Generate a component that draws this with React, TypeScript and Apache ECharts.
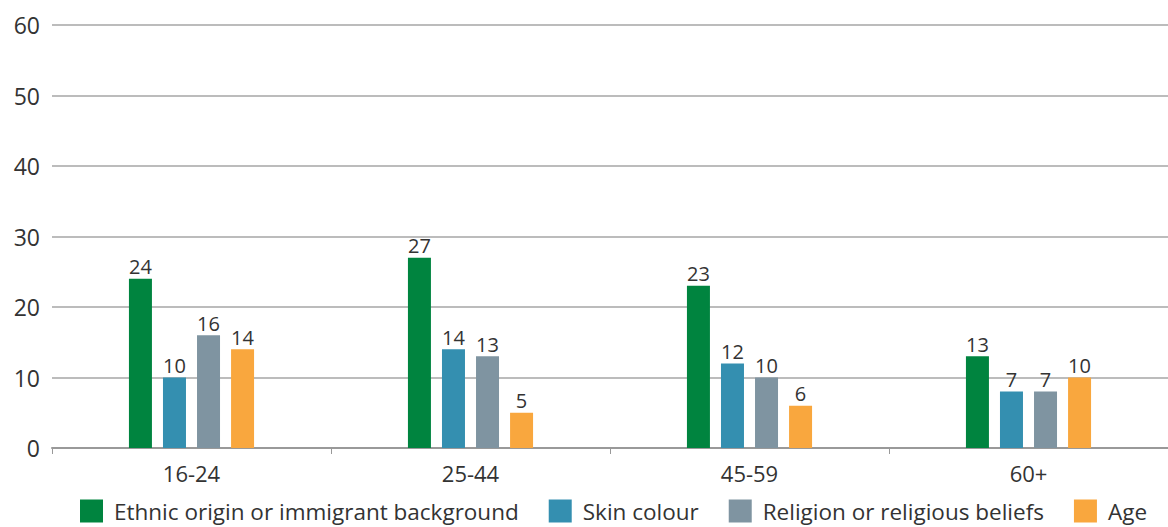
import React, { useEffect, useRef } from "react";
import * as echarts from "echarts";

const categories = ["16-24", "25-44", "45-59", "60+"];
const seriesNames = [
  "Ethnic origin or immigrant background",
  "Skin colour",
  "Religion or religious beliefs",
  "Age",
];
// bar heights as drawn
const ethnic = [24, 27, 23, 13];
const skin = [10, 14, 12, 8];
const religion = [16, 13, 10, 8];
const age = [14, 5, 6, 10];
// value labels as printed
const ethnicLabels = ["24", "27", "23", "13"];
const skinLabels = ["10", "14", "12", "7"];
const religionLabels = ["16", "13", "10", "7"];
const ageLabels = ["14", "5", "6", "10"];
const yTicks = [0, 10, 20, 30, 40, 50, 60];

const colors = ["#00843f", "#348fb0", "#7f94a1", "#f9a73e"];
const FONT = "'Open Sans', 'Noto Sans', sans-serif";

export default function App() {
  const ref = useRef<HTMLDivElement>(null);
  useEffect(() => {
    if (!ref.current) return;
    const chart = echarts.init(ref.current, null, { renderer: "svg" });
    const datasets = [ethnic, skin, religion, age];
    const labelSets = [ethnicLabels, skinLabels, religionLabels, ageLabels];
    chart.setOption({
      animation: false,
      textStyle: { fontFamily: FONT },
      grid: { left: 52, right: 0, top: 25, bottom: 79, containLabel: false },
      legend: {
        data: seriesNames,
        left: 80,
        top: 498,
        padding: 0,
        itemWidth: 23,
        itemHeight: 23,
        itemGap: 30,
        icon: "rect",
        textStyle: { fontSize: 22.5, lineHeight: 26, color: "#333", fontFamily: FONT, padding: [0, 0, 0, 6] },
      },
      xAxis: {
        type: "category",
        data: categories,
        axisLine: { lineStyle: { color: "#999", width: 2 } },
        axisTick: { show: true, length: 6, lineStyle: { color: "#999", width: 1 }, alignWithLabel: false },
        axisLabel: { fontSize: 22, color: "#333", margin: 14, fontFamily: FONT },
      },
      yAxis: {
        type: "value",
        min: yTicks[0],
        max: yTicks[yTicks.length - 1],
        interval: 10,
        axisLine: { show: false },
        axisTick: { show: false },
        axisLabel: { fontSize: 23, color: "#333", margin: 12, fontFamily: FONT },
        splitLine: { lineStyle: { color: "#a6a6a6", width: 1.5 } },
      },
      series: seriesNames.map((name, i) => ({
        name,
        type: "bar",
        data: datasets[i],
        barWidth: 23,
        barGap: "48%",
        itemStyle: { color: colors[i] },
        label: {
          show: true,
          position: "top",
          distance: 2,
          fontSize: 20,
          color: "#333",
          fontFamily: FONT,
          formatter: (p: any) => labelSets[i][p.dataIndex],
        },
      })),
    });
    return () => chart.dispose();
  }, []);
  return <div ref={ref} style={{ width: 1168, height: 527, position: "absolute", left: 0, top: 0 }} />;
}
